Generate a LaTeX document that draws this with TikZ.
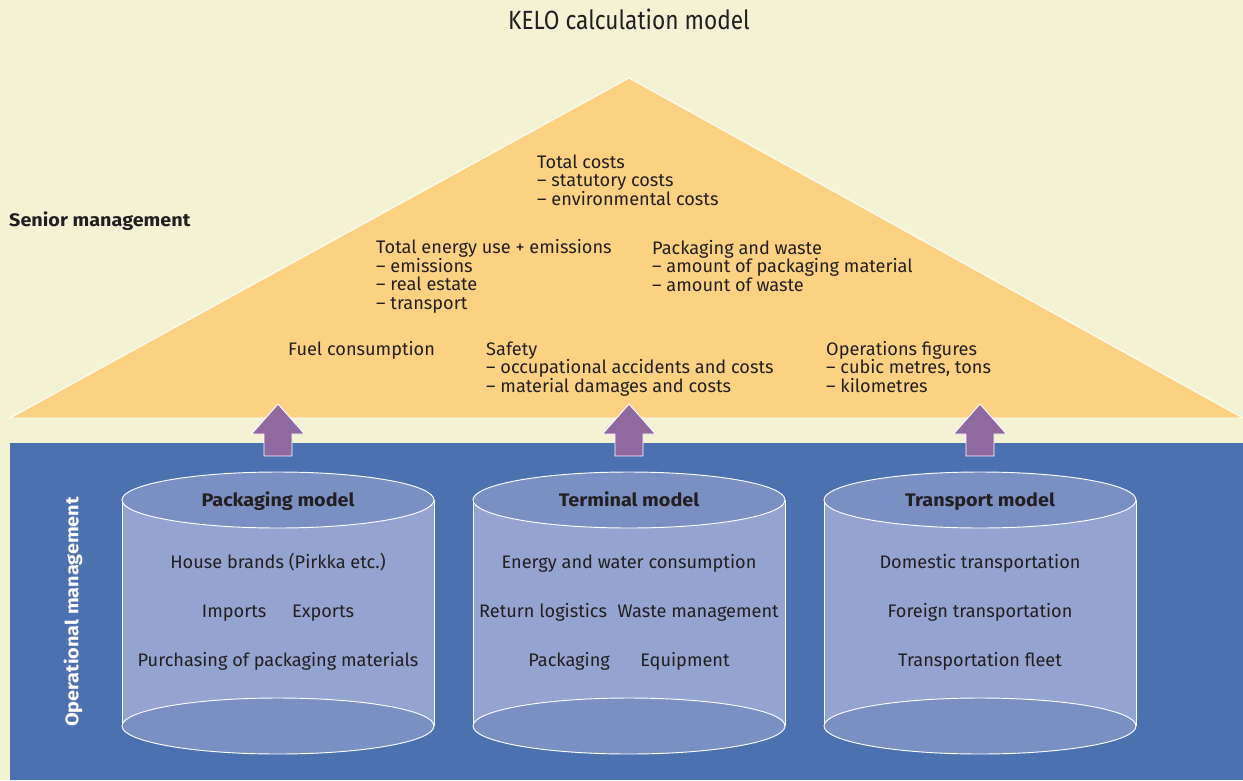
\documentclass[tikz,border=0pt]{standalone}
\usepackage{fontspec}
\setmainfont{Fira Sans}
\usetikzlibrary{positioning}
\definecolor{creambg}{HTML}{F3F3D4}
\definecolor{pyramid}{HTML}{FAD282}
\definecolor{opblue}{HTML}{4B71B0}
\definecolor{cylbody}{HTML}{93A4D0}
\definecolor{cyllid}{HTML}{7A90C3}
\definecolor{uparrow}{HTML}{9069A0}
\definecolor{ink}{HTML}{231F20}
\newcommand{\heavy}[1]{\scalebox{1.09}[1]{\bfseries #1}}

\begin{document}
\begin{tikzpicture}[x=0.03cm, y=-0.03cm,
  font=\fontsize{15.5}{15.7}\selectfont,
  every node/.style={text=ink},
  txt/.style={anchor=base west, align=left, inner sep=0pt},
  item/.style={anchor=base, inner sep=0pt},
  cyltitle/.style={anchor=base, inner sep=0pt},
  edge/.style={draw=white, line width=0.8pt}]

  % Background
  \fill[creambg] (0,0) rectangle (1243,780);
  \useasboundingbox (0,0) rectangle (1243,780);
  \node (title) at (629,19) {\scalebox{0.86}[1]{\fontsize{22.5}{24}\selectfont KELO calculation model}};

  % Pyramid and operational area
  \fill[pyramid, edge] (10,418) -- (629,78) -- (1243,418) -- cycle;
  \fill[opblue] (10,443) rectangle (1243,780);

  % Up arrows
  \foreach \cx in {278,629,980}
    \fill[uparrow, edge] (\cx-14,456) -- (\cx-14,434) -- (\cx-26.5,434) -- (\cx,404)
      -- (\cx+26.5,434) -- (\cx+14,434) -- (\cx+14,456) -- cycle;

  % Three cylinders
  \foreach \cx in {278,629,980} {
    \fill[cylbody] (\cx-156,500) rectangle (\cx+156,726);
    \draw[edge] (\cx-156,500) -- (\cx-156,726) (\cx+156,500) -- (\cx+156,726);
    \filldraw[fill=cyllid, edge] (\cx,726) ellipse [x radius=156, y radius=28];
    \filldraw[fill=cyllid, edge] (\cx,500) ellipse [x radius=156, y radius=28];
  }

  % Side labels
  \node[txt] (senior) at (9,226) {\heavy{Senior management}};
  \node[rotate=90, text=white] (oper) at (73,612) {\heavy{Operational management}};

  % Pyramid figures (placed by the baseline of their last line)
  \node[txt] (totcost) at (537,205) {Total costs\\– statutory costs\\– environmental costs};
  \node[txt] (energy) at (376,309) {Total energy use + emissions\\– emissions\\– real estate\\– transport};
  \node[txt] (waste) at (652,291) {Packaging and waste\\– amount of packaging material\\– amount of waste};
  \node[txt] (fuel) at (288,355) {Fuel consumption};
  \node[txt] (safety) at (486,392) {Safety\\– occupational accidents and costs\\– material damages and costs};
  \node[txt] (opfig) at (826,392) {Operations figures\\– cubic metres, tons\\– kilometres};

  % Packaging model
  \node[cyltitle] (pkgtitle) at (278,506) {\heavy{Packaging model}};
  \node[item] (pkgbrands) at (278,568) {House brands (Pirkka etc.)};
  \node[item] (pkgimpexp) at (278,617) {Imports\hspace{22pt}Exports};
  \node[item] (pkgbuy) at (278,666) {Purchasing of packaging materials};

  % Terminal model
  \node[cyltitle] (termtitle) at (629,506) {\heavy{Terminal model}};
  \node[item] (termenergy) at (629,568) {Energy and water consumption};
  \node[item] (termreturn) at (629,617) {Return logistics\hspace{9pt}Waste management};
  \node[item] (termpack) at (629,666) {Packaging\hspace{26pt}Equipment};

  % Transport model
  \node[cyltitle] (transtitle) at (980,506) {\heavy{Transport model}};
  \node[item] (transdom) at (980,568) {Domestic transportation};
  \node[item] (transfor) at (980,617) {Foreign transportation};
  \node[item] (transfleet) at (980,666) {Transportation fleet};
\end{tikzpicture}
\end{document}
